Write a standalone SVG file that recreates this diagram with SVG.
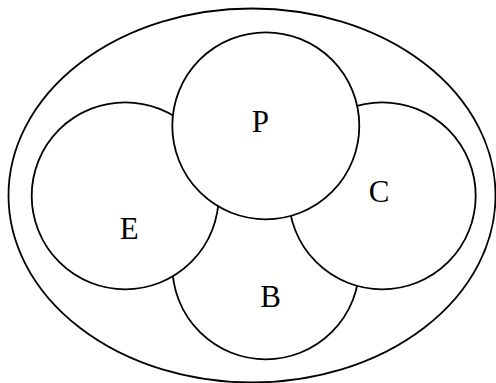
<svg xmlns="http://www.w3.org/2000/svg" width="496" height="383" viewBox="0 0 496 383">
<style>
.s{fill:#fff;stroke:#000;stroke-width:1.8}
.t{font-family:"Liberation Serif",serif;font-size:31px;fill:#000;text-anchor:middle}
</style>
<rect width="496" height="383" fill="#fff"/>
<g id="outer"><ellipse class="s" cx="252" cy="195.5" rx="243.5" ry="187"/></g>
<g id="B"><circle class="s" cx="265.8" cy="265.8" r="93.5"/><text class="t" x="270.5" y="307.3">B</text></g>
<g id="E"><circle class="s" cx="125.2" cy="195.8" r="93.5"/><text class="t" x="129.2" y="238.7">E</text></g>
<g id="C"><circle class="s" cx="382.2" cy="195.8" r="93.5"/><text class="t" x="379" y="202.3">C</text></g>
<g id="P"><circle class="s" cx="265.8" cy="125.8" r="93.5"/><text class="t" x="260.3" y="131.7">P</text></g>
<g id="connectors"></g>
</svg>
